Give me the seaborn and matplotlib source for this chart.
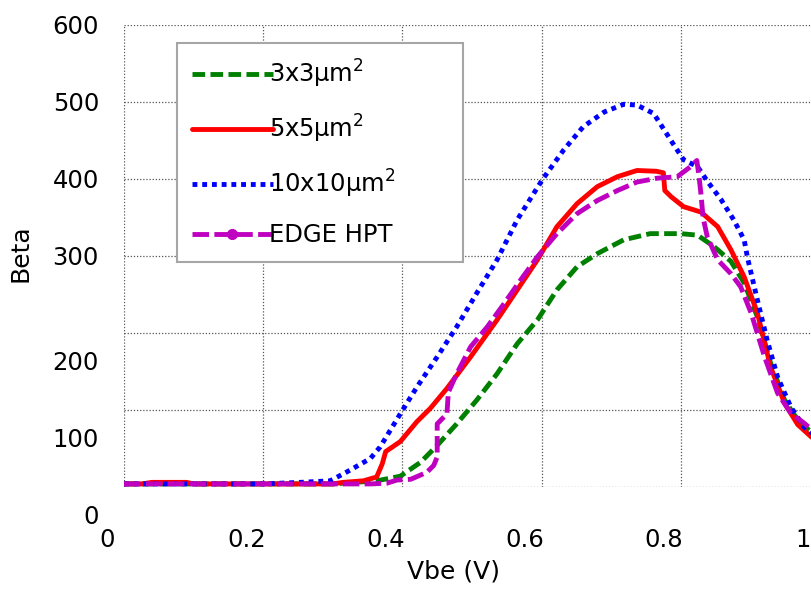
import numpy as np
import matplotlib
matplotlib.use("Agg")
import matplotlib.pyplot as plt
from matplotlib.lines import Line2D
from matplotlib.transforms import ScaledTranslation
import seaborn as sns

# Beta vs Vbe
vbe_3x3 = [0.00, 0.10, 0.20, 0.30, 0.363, 0.397, 0.426, 0.450, 0.478, 0.507, 0.536, 0.565,
           0.594, 0.622, 0.651, 0.680, 0.718, 0.756, 0.800, 0.824, 0.848, 0.872, 0.891,
           0.910, 0.929, 0.949, 0.968, 0.990]
beta_3x3 = [4, 4, 4, 4, 8, 14, 32, 54, 82, 113, 147, 186,
            217, 256, 286, 303, 321, 329, 329, 327, 312, 293, 265,
            221, 161, 113, 87, 69]

vbe_5x5 = [0.00, 0.026, 0.04, 0.09, 0.10, 0.20, 0.30, 0.315, 0.344, 0.363, 0.371, 0.376,
           0.397, 0.421, 0.440, 0.464, 0.498, 0.536, 0.565, 0.594, 0.622, 0.651, 0.680,
           0.709, 0.737, 0.765, 0.775, 0.777, 0.786, 0.804, 0.829, 0.853, 0.872, 0.891,
           0.910, 0.929, 0.949, 0.968, 0.990]
beta_5x5 = [4, 4, 6, 6, 4, 4, 4, 6, 8, 13, 30, 46,
            59, 85, 102, 128, 169, 217, 256, 295, 338, 368, 390,
            403, 411, 410, 408, 385, 377, 364, 357, 338, 308, 273,
            226, 156, 109, 81, 63]

vbe_10x10 = [0.00, 0.10, 0.20, 0.253, 0.296, 0.315, 0.325, 0.354, 0.368, 0.399, 0.421,
             0.450, 0.478, 0.507, 0.536, 0.565, 0.601, 0.632, 0.660, 0.690, 0.718, 0.737,
             0.761, 0.788, 0.804, 0.824, 0.839, 0.858, 0.876, 0.891, 0.896, 0.910, 0.924,
             0.939, 0.958, 0.977, 0.990]
beta_10x10 = [4, 4, 4, 6, 8, 17, 22, 37, 52, 98, 130,
              169, 208, 252, 295, 347, 399, 438, 468, 487, 497, 496,
              485, 447, 425, 416, 396, 373, 347, 321, 297, 243, 191,
              143, 104, 78, 69]

vbe_edge = [0.00, 0.10, 0.20, 0.30, 0.354, 0.378, 0.392, 0.412, 0.435, 0.445, 0.450, 0.450,
            0.464, 0.466, 0.478, 0.498, 0.522, 0.546, 0.570, 0.594, 0.622, 0.651, 0.680,
            0.709, 0.737, 0.766, 0.795, 0.814, 0.823, 0.826, 0.829, 0.832, 0.838, 0.853,
            0.872, 0.886, 0.901, 0.920, 0.939, 0.958, 0.977, 0.990]
beta_edge = [4, 4, 4, 4, 4, 5, 9, 10, 19, 28, 39, 82,
             95, 123, 147, 182, 208, 238, 269, 299, 329, 355, 372,
             385, 396, 401, 403, 416, 424, 405, 380, 350, 325, 295,
             277, 260, 226, 170, 122, 96, 83, 73]

series_labels = ["3x3µm$^2$", "5x5µm$^2$", "10x10µm$^2$", "EDGE HPT"]
x_tick_values = [0, 0.2, 0.4, 0.6, 0.8, 1.0]
x_tick_labels = ["0", "0.2", "0.4", "0.6", "0.8", "1"]
y_tick_values = [0, 100, 200, 300, 400, 500, 600]
y_tick_labels = ["0", "100", "200", "300", "400", "500", "600"]

sns.set_style("white")
plt.rcParams["font.family"] = ["DejaVu Sans"]
plt.rcParams["mathtext.fontset"] = "dejavusans"
for key in ["text.color", "axes.labelcolor", "xtick.color", "ytick.color"]:
    plt.rcParams[key] = "black"

fs = 17.5
lw = 3.5

fig = plt.figure(figsize=(8.11, 5.90), dpi=100)
ax = fig.add_axes([0.1529, 0.1746, 0.8582, 0.7831])

sns.lineplot(x=vbe_3x3, y=beta_3x3, ax=ax, color="#008000", lw=lw, sort=False,
             estimator=None, linestyle=(0, (2.6, 1.1)))
sns.lineplot(x=vbe_5x5, y=beta_5x5, ax=ax, color="#FF0000", lw=lw, sort=False,
             estimator=None)
sns.lineplot(x=vbe_10x10, y=beta_10x10, ax=ax, color="#0000FF", lw=lw, sort=False,
             estimator=None, linestyle=(0, (1, 1)))
sns.lineplot(x=vbe_edge, y=beta_edge, ax=ax, color="#C000C0", lw=lw, sort=False,
             estimator=None, linestyle=(0, (3.4, 1.1)))

ax.set_xlim(0, 1)
ax.set_ylim(0, 600)
ax.set_xticks(x_tick_values)
ax.set_xticklabels(x_tick_labels)
ax.set_yticks(y_tick_values)
ax.set_yticklabels(y_tick_labels)
ax.tick_params(axis="both", length=0, labelsize=fs, labelcolor="black")
ax.tick_params(axis="y", pad=18)
ax.tick_params(axis="x", pad=29.5)

ax.set_axisbelow(True)
ax.grid(True, color="#555555", linestyle=(0, (1, 1.5)), linewidth=0.9)
for s in ax.spines.values():
    s.set_visible(False)

# the original picture has shifted tick labels
for lbl in ax.get_xticklabels():
    lbl.set_transform(lbl.get_transform() + ScaledTranslation(-0.17, 0, fig.dpi_scale_trans))
for lbl in ax.get_yticklabels()[:3]:
    lbl.set_transform(lbl.get_transform() + ScaledTranslation(0, -0.28, fig.dpi_scale_trans))

ax.set_xlabel("Vbe (V)", fontsize=fs + 0.5, color="black")
ax.set_ylabel("Beta", fontsize=fs + 0.5, color="black")
ax.xaxis.set_label_coords(0.474, -0.158)
ax.yaxis.set_label_coords(-0.131, 0.506)

lines = ax.get_lines()
handles = [lines[0], lines[1], lines[2],
           Line2D([], [], color="#C000C0", lw=lw, linestyle=(0, (3.4, 1.1)),
                  marker="o", markersize=7)]
leg = ax.legend(handles, series_labels, loc="upper left",
                bbox_to_anchor=(0.0762, 0.5, 0.411, 0.461), mode="expand",
                borderaxespad=0, fontsize=fs, handlelength=3.33, handletextpad=-0.15,
                borderpad=0.6, labelspacing=0.95, frameon=True, fancybox=False,
                edgecolor="#A6A6A6", framealpha=1, numpoints=1)
leg.get_frame().set_linewidth(1.5)
for t in leg.get_texts():
    t.set_color("black")

fig.savefig("out.png", dpi=100)
